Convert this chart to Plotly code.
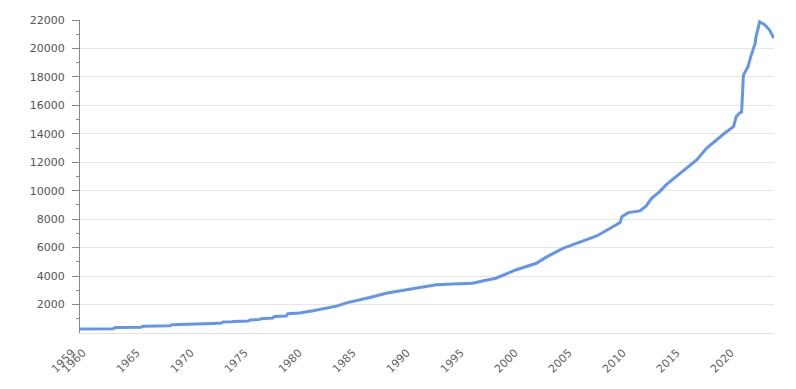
import plotly.graph_objects as go

dates = [
    "1959-01", "1962-02", "1962-04", "1964-09", "1964-11", "1967-05", "1967-07",
    "1969-07", "1969-09", "1971-03", "1971-05", "1972-02", "1972-04", "1973-02",
    "1973-04", "1974-08", "1974-10", "1975-08", "1975-10", "1976-11", "1977-01",
    "1978-02", "1978-04", "1979-05", "1980-08", "1982-10", "1983-09", "1985-11",
    "1987-05", "1989-07", "1992-01", "1993-07", "1995-05", "1996-04", "1997-07",
    "1999-05", "2001-04", "2002-03", "2003-10", "2004-05", "2005-08", "2006-11",
    "2008-02", "2009-01", "2009-03", "2009-10", "2010-11", "2011-06", "2011-12",
    "2012-09", "2013-04", "2014-04", "2015-02", "2016-02", "2017-01", "2017-12",
    "2018-09", "2019-07", "2019-10", "2020-02", "2020-04", "2020-06", "2020-11",
    "2021-02", "2021-07", "2021-08", "2021-12", "2022-05", "2022-11", "2023-04",
]
values = [
    285, 305, 385, 410, 480, 510, 575,
    600, 630, 650, 675, 700, 770, 790,
    815, 840, 910, 940, 1005, 1050, 1165,
    1200, 1355, 1400, 1560, 1890, 2120, 2500,
    2790, 3070, 3390, 3450, 3500, 3650, 3850,
    4430, 4900, 5330, 5960, 6120, 6470, 6820,
    7360, 7760, 8180, 8460, 8580, 8930, 9470,
    9940, 10410, 11040, 11580, 12160, 12980, 13570,
    14040, 14500, 15200, 15480, 15520, 18130, 18710,
    19410, 20350, 20820, 21870, 21710, 21290, 20710,
]

tick_dates = ["1959-01-01", "1960-01-01", "1965-01-01", "1970-01-01", "1975-01-01",
              "1980-01-01", "1985-01-01", "1990-01-01", "1995-01-01", "2000-01-01",
              "2005-01-01", "2010-01-01", "2015-01-01", "2020-01-01"]
tick_text = ["1959", "1960", "1965", "1970", "1975", "1980", "1985", "1990",
             "1995", "2000", "2005", "2010", "2015", "2020"]
y_ticks = list(range(2000, 22001, 2000))

fig = go.Figure(go.Scatter(
    x=dates, y=values, mode="lines",
    line=dict(color="#6495ED", width=3),
    hoverinfo="x+y",
))

yfont = dict(family="DejaVu Sans, Arial, sans-serif", size=11, color="#555555")
xfont = dict(family="DejaVu Sans, Arial, sans-serif", size=11, color="#666666")

fig.update_layout(
    width=796, height=389,
    margin=dict(l=80, r=22, t=20, b=56),
    paper_bgcolor="white", plot_bgcolor="white",
    showlegend=False,
    font=yfont,
)
fig.update_xaxes(
    type="date",
    range=["1959-01-01", "2023-04-01"],
    tickmode="array", tickvals=tick_dates, ticktext=tick_text,
    tickangle=-45, tickfont=xfont,
    ticklabelstandoff=8, ticklabelshift=-8,
    showgrid=False, zeroline=False,
    showline=True, linecolor="#e2e2e2", linewidth=1,
    ticks="",
)
fig.update_yaxes(
    range=[0, 22000],
    tickmode="array", tickvals=y_ticks, ticktext=[str(v) for v in y_ticks],
    tickfont=yfont, ticklabelstandoff=5,
    showgrid=True, gridcolor="#e6e6e6", gridwidth=1,
    zeroline=False,
    showline=True, linecolor="#888888", linewidth=1,
    ticks="outside", ticklen=7, tickcolor="#888888",
    minor=dict(tickmode="array", tickvals=list(range(1000, 22000, 2000)),
               ticks="outside", ticklen=3, tickcolor="#888888", showgrid=False),
)

fig.write_html("out.html")
